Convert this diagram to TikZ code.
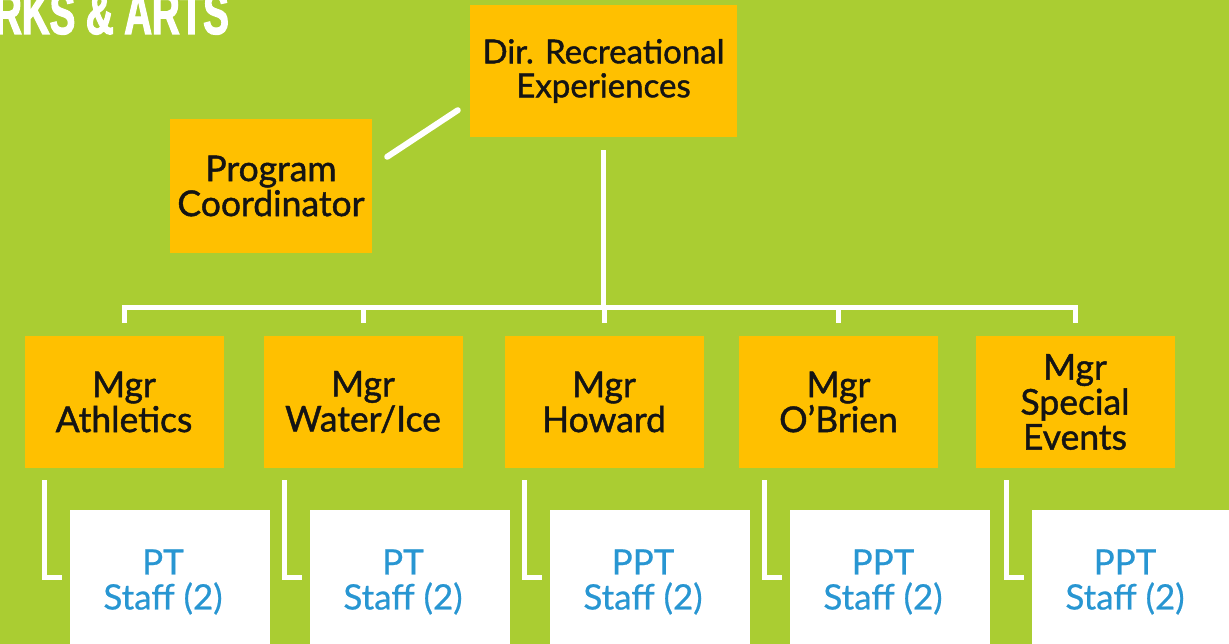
\documentclass[tikz,border=0pt]{standalone}
\usepackage{fontspec}
\setmainfont{Lato}
\newfontfamily\boxfont[FakeBold=1.2]{Lato}
\newfontfamily\stafffont[FakeBold=0.6]{Lato}
\newfontfamily\titlefont[FakeStretch=0.64,FakeBold=2]{Liberation Sans}
\usetikzlibrary{calc}
\definecolor{bg}{RGB}{170,205,50}
\definecolor{boxorange}{RGB}{255,192,0}
\definecolor{staffblue}{RGB}{40,150,210}
\definecolor{ink}{RGB}{20,20,20}
\begin{document}
\begin{tikzpicture}[x=1pt,y=-1pt,
  orangebox/.style={fill=boxorange, inner sep=0pt, align=center, text=ink},
  topbox/.style={orangebox, minimum width=267pt, minimum height=132pt, font=\boxfont\fontsize{33}{34}\selectfont},
  pcbox/.style={orangebox, minimum width=202pt, minimum height=134pt, font=\boxfont\fontsize{35.5}{35}\selectfont},
  mgrbox/.style={orangebox, minimum width=199pt, minimum height=132pt, font=\boxfont\fontsize{35.5}{35}\selectfont},
  mgrtwo/.style={mgrbox, execute at begin node={\rule{0pt}{33pt}}},
  staffbox/.style={fill=white, inner sep=0pt, minimum width=200pt, minimum height=140pt},
  stafftext/.style={inner sep=0pt, align=center, text=staffblue, font=\stafffont\fontsize{35}{35}\selectfont},
  tree/.style={draw=white, line width=5pt, line cap=butt, line join=miter},
  conn/.style={draw=white, line width=5pt, line cap=butt, line join=miter},
  diag/.style={draw=white, line width=6pt, line cap=round}]
\useasboundingbox (0,0) rectangle (1229,644);
\clip (0,0) rectangle (1229,644);
\fill[bg] (0,0) rectangle (1229,644);
% title
\node[anchor=base west, inner sep=0pt, text=white, font=\titlefont\bfseries\fontsize{60}{60}\selectfont] (title) at (-6,34) {RKS \& ARTS};
% boxes
\node[topbox] (dir) at (603.5,71) {Dir. Recreational\\Experiences};
\node[pcbox] (pc) at (271,186) {Program\\Coordinator};
\node[mgrtwo] (m1) at (124,402) {Mgr\\Athletics};
\node[mgrtwo] (m2) at (363,402) {Mgr\\Water/Ice};
\node[mgrtwo] (m3) at (604,402) {Mgr\\Howard};
\node[mgrtwo] (m4) at (838.5,402) {Mgr\\O’Brien};
\node[mgrbox] (m5) at (1075,402) {Mgr\\Special\\Events};
\foreach \i/\x/\t in {1/170/PT,2/410/PT,3/650/PPT,4/890/PPT,5/1132/PPT}{
  \node[staffbox] (s\i) at (\x,580) {};
  \node[stafftext] (s\i t) at ($(s\i)+(-7,2)$) {\t\\Staff (2)};
}
% tree
\coordinate (bus) at ($(m3.north)+(0,-28)$);
\draw[tree] ($(dir.south)+(0,13)$) -- (dir.south |- bus);
\draw[tree] ($(m1.north)+(0,-13)$) -- ($(m1.north)+(0,-28)$) -- ($(m5.north)+(0,-28)$) -- ($(m5.north)+(0,-13)$);
\foreach \m in {m2,m3,m4}{
  \draw[tree] ($(\m.north)+(0,-13)$) -- ($(\m.north)+(0,-28)$);
}
% diagonal
\draw[diag] ($(pc.north east)+(15,38)$) -- ($(dir.south west)+(-12,-27)$);
% manager to staff
\foreach \m/\s in {m1/s1,m2/s2,m3/s3,m4/s4,m5/s5}{
  \draw[conn] ($(\m.south -| \s.west)+(-25,12)$) |- ($(\s.west)+(-8,-3)$);
}
\end{tikzpicture}
\end{document}
